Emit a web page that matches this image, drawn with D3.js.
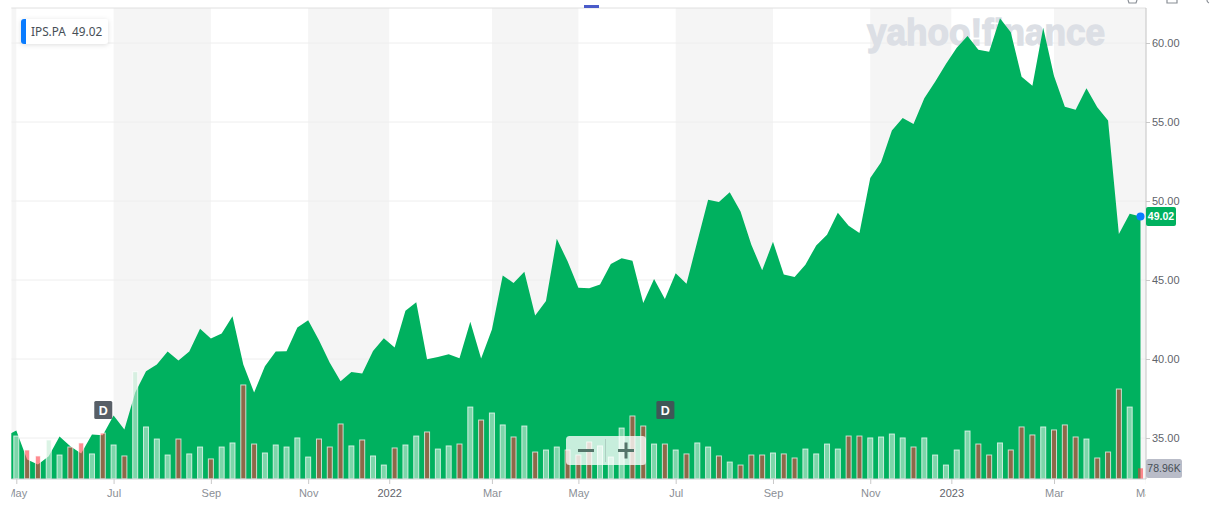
<!DOCTYPE html>
<html><head><meta charset="utf-8">
<script src="https://cdnjs.cloudflare.com/ajax/libs/d3/7.8.5/d3.min.js"></script>
<style>html,body{margin:0;padding:0;background:#fff;overflow:hidden}svg{display:block}text{font-family:"Liberation Sans",Arial,sans-serif}</style>
</head><body><svg id="c" width="1215" height="509"></svg>
<script>
// week index -1 is the point just before the visible window
const closes=[35.11,35.47,33.64,33.32,33.85,35.09,34.48,34.02,35.22,35.18,36.42,35.54,37.88,39.22,39.65,40.47,39.90,40.47,41.92,41.29,41.61,42.70,39.65,37.88,39.54,40.47,40.49,42.00,42.45,41.18,39.77,38.59,39.18,39.08,40.51,41.31,40.72,43.06,43.59,39.98,40.13,40.30,40.04,42.35,40.03,41.86,45.29,44.81,45.52,42.76,43.67,47.61,46.18,44.51,44.47,44.72,46.01,46.37,46.22,43.55,45.06,43.80,45.42,44.77,47.44,50.08,49.93,50.56,49.33,47.23,45.61,47.42,45.35,45.19,45.97,47.19,47.86,49.25,48.43,47.97,51.45,52.46,54.46,55.25,54.88,56.50,57.55,58.67,59.70,60.44,59.58,59.45,61.56,60.68,57.87,57.30,60.97,57.91,55.97,55.78,57.14,55.94,55.09,47.91,49.19,49.02];
const volumesK=[317,214,170,288,177,236,266,185,339,251,170,792,384,295,177,295,185,236,148,236,266,694,258,192,251,236,303,162,295,236,406,244,288,170,103,229,251,317,347,221,244,258,531,435,487,399,310,391,199,214,236,214,177,273,244,162,376,465,391,258,258,214,185,266,236,170,125,103,177,177,192,185,155,221,185,258,221,317,317,303,310,332,303,236,303,177,103,214,354,258,177,266,214,384,325,384,362,399,310,295,155,199,664,531,78.96];
const volumeDown=[0,1,1,0,0,1,1,0,1,0,1,0,0,0,0,1,0,0,1,0,0,1,1,0,0,0,0,0,1,1,1,0,1,0,0,1,0,0,1,0,0,1,0,1,0,0,1,0,1,0,0,1,1,1,0,0,0,1,1,0,1,0,1,0,0,1,0,1,1,1,0,1,1,0,0,0,0,1,1,0,0,0,0,1,0,0,0,0,0,1,1,0,1,1,1,0,1,1,1,0,1,1,1,0,1];
const tickWeeks=[0,9,18,27,34.5,44,52,61,70,79,86.5,96,104.5];
const tickLabels=["May","Jul","Sep","Nov","2022","Mar","May","Jul","Sep","Nov","2023","Mar","May"];
const priceTicks=[35,40,45,50,55,60];
const bandPairs=[[-0.47,0],[9,18],[27,34.5],[44,52],[61,70],[79,86.5],[96,104.5]];
const dividendWeeks=[8,60];
const ticker="IPS.PA", lastPrice=49.02, lastVolume="78.96K";

const svg=d3.select("#c");
const L=11.3,R=1146,T=8,B=479;
const x=d3.scaleLinear().domain([0,104]).range([16.3,1140.5]);
const y=d3.scaleLinear().domain([35,60]).range([438,43]);
const v=d3.scaleLinear().domain([0,1000]).range([B,B-135.5]);
const defs=svg.append("defs");
defs.append("clipPath").attr("id","plot").append("rect").attr("x",L).attr("y",T).attr("width",R-L).attr("height",B-T);
defs.append("clipPath").attr("id","xlab").append("rect").attr("x",L).attr("y",B).attr("width",R-L).attr("height",30);
const sh=defs.append("filter").attr("id","sh").attr("x","-20%").attr("y","-30%").attr("width","140%").attr("height","170%");
sh.append("feDropShadow").attr("dx",0).attr("dy",1).attr("stdDeviation",2.5).attr("flood-color","#000").attr("flood-opacity",.13);

const plot=svg.append("g").attr("clip-path","url(#plot)");
plot.selectAll("rect.band").data(bandPairs).join("rect").attr("class","band")
 .attr("x",d=>Math.max(L,x(d[0]))).attr("width",d=>Math.min(R,x(d[1]))-Math.max(L,x(d[0])))
 .attr("y",T).attr("height",B-T).attr("fill","#f5f5f5");
plot.selectAll("line.grid").data(priceTicks).join("line").attr("class","grid")
 .attr("x1",L).attr("x2",R).attr("y1",y).attr("y2",y).attr("stroke","#eeeeee");
plot.append("text").attr("x",867).attr("y",45).attr("textLength",238).attr("lengthAdjust","spacingAndGlyphs")
 .attr("font-size",37).attr("font-weight",700).attr("fill","#dcdfe5").attr("stroke","#dcdfe5").attr("stroke-width",1.4)
 .text("yahoo!finance");
const area=d3.area().x((d,i)=>x(i-1)).y0(B).y1(d=>y(d));
plot.append("path").datum(closes).attr("d",area).attr("fill","#00b15f");

const bw=5;
svg.append("g").selectAll("rect").data(volumesK).join("rect")
 .attr("x",(d,i)=>x(i)-bw/2).attr("y",d=>v(d)).attr("width",bw).attr("height",d=>B-v(d))
 .attr("fill",(d,i)=>volumeDown[i]?"rgba(255,46,55,.55)":"rgba(198,236,214,.63)")
 .attr("stroke",(d,i)=>i===104?"none":"rgba(255,255,255,.72)").attr("stroke-width",1);

// axes
const xa=d3.axisBottom(x).tickValues(tickWeeks).tickSize(5).tickFormat((d,i)=>tickLabels[i]);
const gx=svg.append("g").attr("clip-path","url(#xlab)").append("g").attr("transform",`translate(0,${B})`).call(xa);
gx.select(".domain").remove();
gx.selectAll("line").attr("stroke","#c9c9c9");
gx.selectAll("text").attr("y",10).attr("dy","0.71em").attr("font-size",11).attr("fill","#8b8f96")
 .filter(d=>d===34.5||d===86.5).attr("fill","#5f646b");
svg.append("line").attr("x1",L).attr("x2",R).attr("y1",B).attr("y2",B).attr("stroke","#cfd1d4");
svg.append("line").attr("x1",L).attr("x2",R).attr("y1",T).attr("y2",T).attr("stroke","#e0e0e0");
const ya=d3.axisRight(y).tickValues(priceTicks).tickSize(4).tickPadding(2).tickFormat(d3.format(".2f"));
const gy=svg.append("g").attr("transform",`translate(${R},0)`).call(ya);
gy.select(".domain").remove();
gy.selectAll("line").attr("stroke","#c9c9c9");
gy.selectAll("text").attr("font-size",11).attr("fill","#5f646b");
svg.append("line").attr("x1",R).attr("x2",R).attr("y1",T).attr("y2",B).attr("stroke","#c4c4c4");

// header remnants
svg.append("rect").attr("x",584).attr("y",5).attr("width",15).attr("height",3).attr("fill","#4a5bc9");
svg.append("g").attr("fill","none").attr("stroke","#8a8f96").attr("stroke-width",1.2).call(g=>{
  g.append("path").attr("d","M1128 0l1 3h7l1-3");
  g.append("path").attr("d","M1167 0v3h10v-3");
  g.append("path").attr("d","M1207 0a3 3 0 0 0 2 3");
});

// dividend flags
const flags=svg.append("g").selectAll("g").data(dividendWeeks).join("g").attr("transform",d=>`translate(${x(d)+.5},410)`);
flags.append("rect").attr("x",-9).attr("y",-9).attr("width",18).attr("height",18).attr("rx",1.5).attr("fill","rgba(70,78,86,.9)");
flags.append("text").attr("text-anchor","middle").attr("y",4.6).attr("font-size",12.5).attr("font-weight",700).attr("fill","#fff").text("D");

// zoom control
const z=svg.append("g").attr("transform","translate(566,436)");
z.append("rect").attr("width",80).attr("height",29).attr("rx",3.5).attr("fill","rgba(255,255,255,.78)");
z.append("line").attr("x1",39.5).attr("x2",39.5).attr("y1",3).attr("y2",26).attr("stroke","rgba(70,78,86,.2)");
z.append("path").attr("d","M12 14.5h16M52 14.5h16M60 6.5v16").attr("stroke","#55756a").attr("stroke-width",3).attr("fill","none");

// legend
const lg=svg.append("g").attr("transform","translate(21,19)");
lg.append("rect").attr("width",87).attr("height",25).attr("rx",3).attr("fill","#fff").attr("filter","url(#sh)");
lg.append("path").attr("d","M3 0h2v25h-2a3 3 0 0 1-3-3v-19a3 3 0 0 1 3-3z").attr("fill","#0a7cff");
lg.append("text").attr("x",10).attr("y",17).attr("xml:space","preserve").attr("font-size",11.8).attr("fill","#464e56")
 .style("font-family","'Noto Sans'").text(`${ticker}  ${lastPrice.toFixed(2)}`);

// last value markers
svg.append("circle").attr("cx",x(104)).attr("cy",y(lastPrice)).attr("r",4).attr("fill","#0a7cff");
svg.append("rect").attr("x",R).attr("y",y(lastPrice)-9.5).attr("width",30).attr("height",19).attr("rx",2).attr("fill","#00b15f");
svg.append("text").attr("x",R+15).attr("y",y(lastPrice)+3.8).attr("text-anchor","middle").attr("font-size",10.5).attr("font-weight",700).attr("fill","#fff").text(lastPrice.toFixed(2));
svg.append("rect").attr("x",R).attr("y",459).attr("width",36).attr("height",19).attr("rx",2.5).attr("fill","#b9bcc8");
svg.append("text").attr("x",R+18).attr("y",472.3).attr("text-anchor","middle").attr("font-size",10.5).attr("fill","#464e56").text(lastVolume);
</script></body></html>
